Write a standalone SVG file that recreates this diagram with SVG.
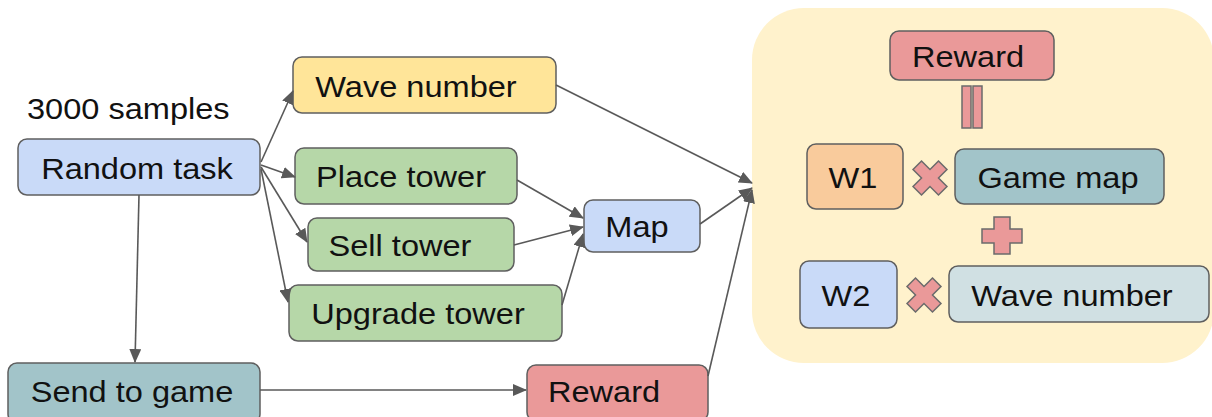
<svg xmlns="http://www.w3.org/2000/svg" width="1212" height="417" viewBox="0 0 1212 417">
  <style>
    .box { stroke: #5f5f5f; stroke-width: 1.5; }
    .t { font-family: "Liberation Sans", Arial, sans-serif; font-size: 30px; fill: #111; text-anchor: middle; }
    .edge { fill: none; stroke: #595959; stroke-width: 1.6; marker-end: url(#arrow); }
    .op { fill: #ea9999; stroke: #6b6b6b; stroke-width: 1.5; }
    .blue { fill: #c9daf8; }
    .yellow { fill: #ffe599; }
    .green { fill: #b6d7a8; }
    .teal { fill: #a2c4c9; }
    .red { fill: #ea9999; }
    .orange { fill: #f9cb9c; }
    .pale { fill: #d0e0e3; }
  </style>
  <defs>
    <marker id="arrow" markerUnits="userSpaceOnUse" markerWidth="14" markerHeight="12" refX="13" refY="6" orient="auto">
      <path d="M0,0 L14,6 L0,12 Z" fill="#595959"/>
    </marker>
  </defs>
  <rect width="1212" height="417" fill="#ffffff"/>

  <!-- reward formula panel -->
  <g id="panel">
    <rect x="752" y="8" width="462" height="355" rx="52" fill="#fff2cc"/>
  </g>

  <g id="samples-label">
    <text class="t" style="text-anchor:start" transform="translate(27,119) scale(1.085,1)">3000 samples</text>
  </g>

  <g id="random-task">
    <rect class="box blue" x="18" y="139" width="242" height="56" rx="9"/>
    <text class="t" transform="translate(137,179) scale(1.085,1)">Random task</text>
  </g>

  <g id="wave-number">
    <rect class="box yellow" x="293" y="57" width="263" height="56" rx="9"/>
    <text class="t" transform="translate(416,97) scale(1.085,1)">Wave number</text>
  </g>

  <g id="place-tower">
    <rect class="box green" x="295" y="148" width="222" height="56" rx="9"/>
    <text class="t" transform="translate(401,187) scale(1.085,1)">Place tower</text>
  </g>

  <g id="sell-tower">
    <rect class="box green" x="308" y="218" width="206" height="53" rx="9"/>
    <text class="t" transform="translate(400,256) scale(1.085,1)">Sell tower</text>
  </g>

  <g id="upgrade-tower">
    <rect class="box green" x="289" y="285" width="273" height="56" rx="9"/>
    <text class="t" transform="translate(418,324) scale(1.085,1)">Upgrade tower</text>
  </g>

  <g id="map">
    <rect class="box blue" x="584" y="200" width="116" height="52" rx="9"/>
    <text class="t" transform="translate(637,237) scale(1.085,1)">Map</text>
  </g>

  <g id="send-to-game">
    <rect class="box teal" x="8" y="363" width="252" height="60" rx="9"/>
    <text class="t" transform="translate(132,402) scale(1.085,1)">Send to game</text>
  </g>

  <g id="reward">
    <rect class="box red" x="527" y="365" width="181" height="56" rx="9"/>
    <text class="t" transform="translate(604,402) scale(1.085,1)">Reward</text>
  </g>

  <!-- formula: Reward = W1 x Game map + W2 x Wave number -->
  <g id="formula-reward">
    <rect class="box red" x="890" y="31" width="164" height="49" rx="9"/>
    <text class="t" transform="translate(968,67) scale(1.085,1)">Reward</text>
  </g>

  <g id="equals">
    <rect class="op" x="962" y="86" width="9" height="42"/>
    <rect class="op" x="973" y="86" width="9" height="42"/>
  </g>

  <g id="w1">
    <rect class="box orange" x="807" y="144" width="96" height="65" rx="9"/>
    <text class="t" transform="translate(853,188) scale(1.085,1)">W1</text>
  </g>

  <g id="times-1">
    <polygon class="op" transform="translate(930,178) rotate(45)" points="-6,-18 6,-18 6,-6 18,-6 18,6 6,6 6,18 -6,18 -6,6 -18,6 -18,-6 -6,-6"/>
  </g>

  <g id="game-map">
    <rect class="box teal" x="955" y="149" width="209" height="55" rx="9"/>
    <text class="t" transform="translate(1058,188) scale(1.085,1)">Game map</text>
  </g>

  <g id="plus">
    <polygon class="op" transform="translate(1002,236)" points="-8,-19 8,-19 8,-7 20,-7 20,7 8,7 8,18 -8,18 -8,7 -20,7 -20,-7 -8,-7"/>
  </g>

  <g id="w2">
    <rect class="box blue" x="800" y="261" width="97" height="67" rx="9"/>
    <text class="t" transform="translate(846,306) scale(1.085,1)">W2</text>
  </g>

  <g id="times-2">
    <polygon class="op" transform="translate(924,295) rotate(45)" points="-6,-18 6,-18 6,-6 18,-6 18,6 6,6 6,18 -6,18 -6,6 -18,6 -18,-6 -6,-6"/>
  </g>

  <g id="wave-number-term">
    <rect class="box pale" x="949" y="266" width="260" height="56" rx="9"/>
    <text class="t" transform="translate(1072,306) scale(1.085,1)">Wave number</text>
  </g>

  <g id="connectors">
    <path class="edge" d="M261,162 L293,91"/>
    <path class="edge" d="M261,165 L295,177"/>
    <path class="edge" d="M261,167 L307,242"/>
    <path class="edge" d="M261,169 L288,302"/>
    <path class="edge" d="M139,195 L135,362"/>
    <path class="edge" d="M556,85 L752,183"/>
    <path class="edge" d="M517,180 L583,218"/>
    <path class="edge" d="M514,245 L583,227"/>
    <path class="edge" d="M562,305 L583,234"/>
    <path class="edge" d="M700,224 L752,188"/>
    <path class="edge" d="M708,376 L752,190"/>
    <path class="edge" d="M260,390 L526,390"/>
  </g>
</svg>
